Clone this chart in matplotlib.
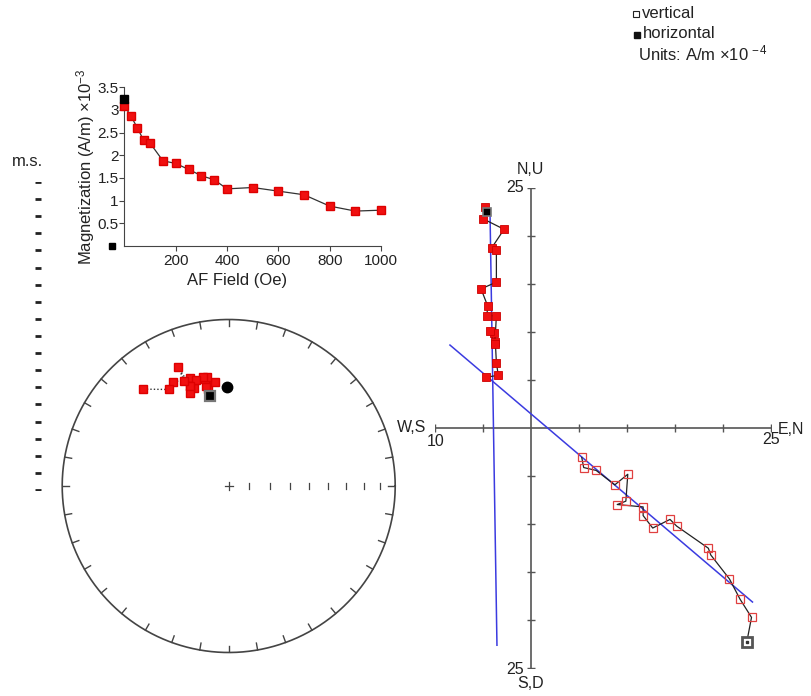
import numpy as np
import matplotlib
matplotlib.use("Agg")
import matplotlib.pyplot as plt

plt.rcParams["font.family"] = ["Liberation Sans", "DejaVu Sans"]
plt.rcParams["mathtext.fontset"] = "custom"
plt.rcParams["mathtext.rm"] = "Liberation Sans"
plt.rcParams["mathtext.it"] = "Liberation Sans:italic"

W, H = 812, 696

# ── data ────────────────────────────────────────────────────────────
# AF demagnetisation steps (Oe) and intensity (A/m x1e-3)
af_steps = [0, 25, 50, 75, 100, 150, 200, 250, 300, 350, 400, 500, 600, 700, 800, 900, 1000]
af_mag = [3.09, 2.87, 2.61, 2.33, 2.27, 1.88, 1.82, 1.69, 1.55, 1.46, 1.26, 1.29, 1.21, 1.13, 0.88, 0.77, 0.79]
nrm_mag = 3.24
af_extra_x = [-50]
af_extra_y = [0]

# vector components per step (A/m x1e-4)
north = [23.0, 21.8, 20.7, 18.75, 18.5, 15.2, 14.5, 12.7, 11.7, 11.7, 9.0, 9.9, 10.1, 8.75, 6.8, 5.5, 5.3]
east = [-4.8, -5.0, -2.8, -4.1, -3.6, -3.6, -5.2, -4.5, -4.6, -3.6, -3.75, -3.8, -4.3, -3.7, -3.6, -3.4, -4.7]
down = [19.7, 17.8, 15.7, 13.2, 12.5, 10.2, 9.5, 10.4, 9.1, 8.2, 7.95, 7.6, 4.8, 5.9, 4.4, 4.1, 3.05]
nrm_n, nrm_e, nrm_d = 22.5, -4.6, 22.3

# line fits (end points)
fit_h_n = [22.8, -22.6]
fit_h_e = [-4.27, -3.54]
fit_v_n = [-8.44, 23.1]
fit_v_d = [-8.65, 18.1]

ms_ticks = np.arange(19)


def px(x, y):
    return x / W, 1 - y / H


def eq_area(dec, inc):
    dec = np.radians(np.asarray(dec, float))
    r = np.sqrt(2) * np.sin(np.radians(90 - np.abs(np.asarray(inc, float))) / 2)
    return r * np.sin(dec), r * np.cos(dec)


def dec_inc(n, e, d):
    n, e, d = (np.asarray(v, float) for v in (n, e, d))
    dec = np.degrees(np.arctan2(e, n)) % 360
    inc = np.degrees(np.arctan2(d, np.hypot(n, e)))
    return dec, inc


fig = plt.figure(figsize=(W / 100, H / 100), dpi=100)

# background axes in pixel units for labels
ax_bg = fig.add_axes([0, 0, 1, 1])
ax_bg.set_xlim(0, W)
ax_bg.set_ylim(H, 0)
ax_bg.axis("off")

# ── AF intensity inset ──────────────────────────────────────────────
l, b = px(124.4, 246)
ax_af = fig.add_axes([l, b, 256.6 / W, 158.7 / H])
ax_af.plot(af_steps, af_mag, color="#333333", lw=0.9, marker="s", ms=6,
           mfc="#f01010", mec="#dd0000", zorder=3, clip_on=False)
ax_af.plot([0], [nrm_mag], "s", color="black", ms=5.5, zorder=4, clip_on=False)
ax_af.plot(af_extra_x, af_extra_y, "s", color="black", ms=5, clip_on=False)
ax_af.set_xlim(0, 1000)
ax_af.set_ylim(0, 3.5)
ax_af.set_xticks([200, 400, 600, 800, 1000])
ax_af.set_yticks([0.5, 1, 1.5, 2, 2.5, 3, 3.5])
ax_af.set_yticklabels(["0.5", "1", "1.5", "2", "2.5", "3", "3.5"])
for s in ["top", "right"]:
    ax_af.spines[s].set_visible(False)
for s in ["left", "bottom"]:
    ax_af.spines[s].set_color("#444444")
ax_af.tick_params(direction="out", length=3.5, width=0.8, color="#444444",
                  labelsize=11, labelcolor="#222222")
ax_af.tick_params(axis="y", pad=0.5)
ax_af.tick_params(axis="x", pad=2)
ax_af.patch.set_alpha(0)

ax_bg.text(236.7, 280, "AF Field (Oe)", ha="center", va="center", fontsize=12, color="#222222")
ax_bg.text(86, 167, "Magnetization (A/m) ×10$^{-3}$", ha="center", va="center",
           rotation=90, fontsize=12, color="#222222")

# ── m.s. column ─────────────────────────────────────────────────────
l, b = px(30, 490)
ax_ms = fig.add_axes([l, b, 16 / W, 308 / H])
ax_ms.plot(np.zeros_like(ms_ticks), ms_ticks, "_", color="#222222", ms=5, mew=2)
ax_ms.set_xlim(-1, 1)
ax_ms.set_ylim(ms_ticks.min(), ms_ticks.max())
ax_ms.axis("off")
ax_bg.text(27, 162, "m.s.", ha="center", va="center", fontsize=12, color="#222222")

# ── equal-area stereonet ────────────────────────────────────────────
R = 166.5
l, b = px(228.7 - R, 486 + R)
ax_s = fig.add_axes([l, b, 2 * R / W, 2 * R / H])
ax_s.set_xlim(-1, 1)
ax_s.set_ylim(-1, 1)
ax_s.set_aspect("equal")
ax_s.axis("off")
t = np.linspace(0, 2 * np.pi, 500)
ax_s.plot(np.cos(t), np.sin(t), color="#444444", lw=1.2, clip_on=False)
for az in np.radians(np.arange(0, 360, 10)):
    ax_s.plot([np.sin(az), 0.958 * np.sin(az)], [np.cos(az), 0.958 * np.cos(az)],
              color="#444444", lw=1)
tick_x, _ = eq_area(np.full(8, 90.0), np.arange(80, 0, -10))
for x in tick_x:
    ax_s.plot([x, x], [-0.021, 0.021], color="#444444", lw=0.9)
ax_s.plot([-0.024, 0.024], [0, 0], color="#444444", lw=0.9)
ax_s.plot([0, 0], [-0.024, 0.024], color="#444444", lw=0.9)

dec, inc = dec_inc(north, east, down)
sx, sy = eq_area(dec, inc)
ax_s.plot(sx, sy, color="#333333", lw=1, ls=(0, (1, 1.5)), zorder=2)
ax_s.plot(sx, sy, "s", ms=6, mfc="#f01010", mec="#dd0000", lw=0, zorder=3)
ndec, ninc = dec_inc([nrm_n], [nrm_e], [nrm_d])
nx, ny = eq_area(ndec, ninc)
ax_s.plot(nx, ny, "s", ms=7, mfc="black", mec="#777777", mew=1.6, zorder=4)
# fitted direction from the two projected line fits
fdec, _ = dec_inc([fit_h_n[0] - fit_h_n[1]], [fit_h_e[0] - fit_h_e[1]], [0])
finc = np.degrees(np.arctan2(fit_v_d[1] - fit_v_d[0], fit_v_n[1] - fit_v_n[0]))
fx, fy = eq_area(fdec, [finc])
ax_s.plot(fx, fy, "o", ms=7.5, color="black", zorder=4)

# ── Zijderveld diagram ──────────────────────────────────────────────
l, b = px(435, 668.3)
ax_z = fig.add_axes([l, b, 335.7 / W, 480.3 / H])
ax_z.set_xlim(-10, 25)
ax_z.set_ylim(-25, 25)
ax_z.axis("off")
ax_z.axhline(0, color="#555555", lw=1.2)
ax_z.axvline(0, color="#555555", lw=1.2)
xt = [-10, -5, 5, 10, 15, 20, 25]
yt = [-25, -20, -15, -10, -5, 5, 10, 15, 20, 25]
ax_z.plot(xt, np.zeros(len(xt)), "|", color="#555555", ms=5.5, mew=1)
ax_z.plot(np.zeros(len(yt)), yt, "_", color="#555555", ms=5.5, mew=1)

# horizontal projection (E, N)
ax_z.plot(fit_h_e, fit_h_n, color="#3b3be0", lw=1.1, zorder=2)
ax_z.plot([nrm_e] + east, [nrm_n] + north, color="#222222", lw=0.9, zorder=3)
ax_z.plot(east, north, "s", ms=5.5, mfc="#f01010", mec="#cc0000", mew=0.6, zorder=4)
ax_z.plot([nrm_e], [nrm_n], "s", ms=5.5, mfc="black", mec="#777777", mew=1.2, zorder=5)

# vertical projection (N, Up)
ax_z.plot(fit_v_n, -np.asarray(fit_v_d), color="#3b3be0", lw=1.1, zorder=2)
ax_z.plot([nrm_n] + north, -np.asarray([nrm_d] + down), color="#222222", lw=0.9, zorder=3)
ax_z.plot(north, -np.asarray(down), "s", ms=5.5, mfc="none", mec="#e04040", mew=0.9, zorder=4)
ax_z.plot([nrm_n], [-nrm_d], "s", ms=7, mfc="white", mec="#555555", mew=2, zorder=5)
ax_z.plot([nrm_n], [-nrm_d], "s", ms=2, color="#333333", zorder=6)

lab = dict(fontsize=11.5, color="#222222")
ax_bg.text(426, 428, "W,S", ha="right", va="center", **lab)
ax_bg.text(436, 441, "10", ha="center", va="center", **lab)
ax_bg.text(771, 440, "25", ha="center", va="center", **lab)
ax_bg.text(778, 429, "E,N", ha="left", va="center", **lab)
ax_bg.text(530, 170, "N,U", ha="center", va="center", **lab)
ax_bg.text(524, 188, "25", ha="right", va="center", **lab)
ax_bg.text(524, 669, "25", ha="right", va="center", **lab)
ax_bg.text(531, 684, "S,D", ha="center", va="center", **lab)

# ── legend ──────────────────────────────────────────────────────────
ax_bg.plot([636.5], [14], "s", ms=3.8, mfc="white", mec="#222222", mew=0.8)
ax_bg.plot([637], [34.5], "s", ms=4.2, color="#111111")
ax_bg.text(642, 13, "vertical", ha="left", va="center", fontsize=12, color="#222222")
ax_bg.text(643, 34, "horizontal", ha="left", va="center", fontsize=12, color="#222222")
ax_bg.text(638, 53, "Units: A/m ×10$^{\\,-4}$", ha="left", va="center", fontsize=12, color="#222222")

fig.savefig("out.png", dpi=100)
